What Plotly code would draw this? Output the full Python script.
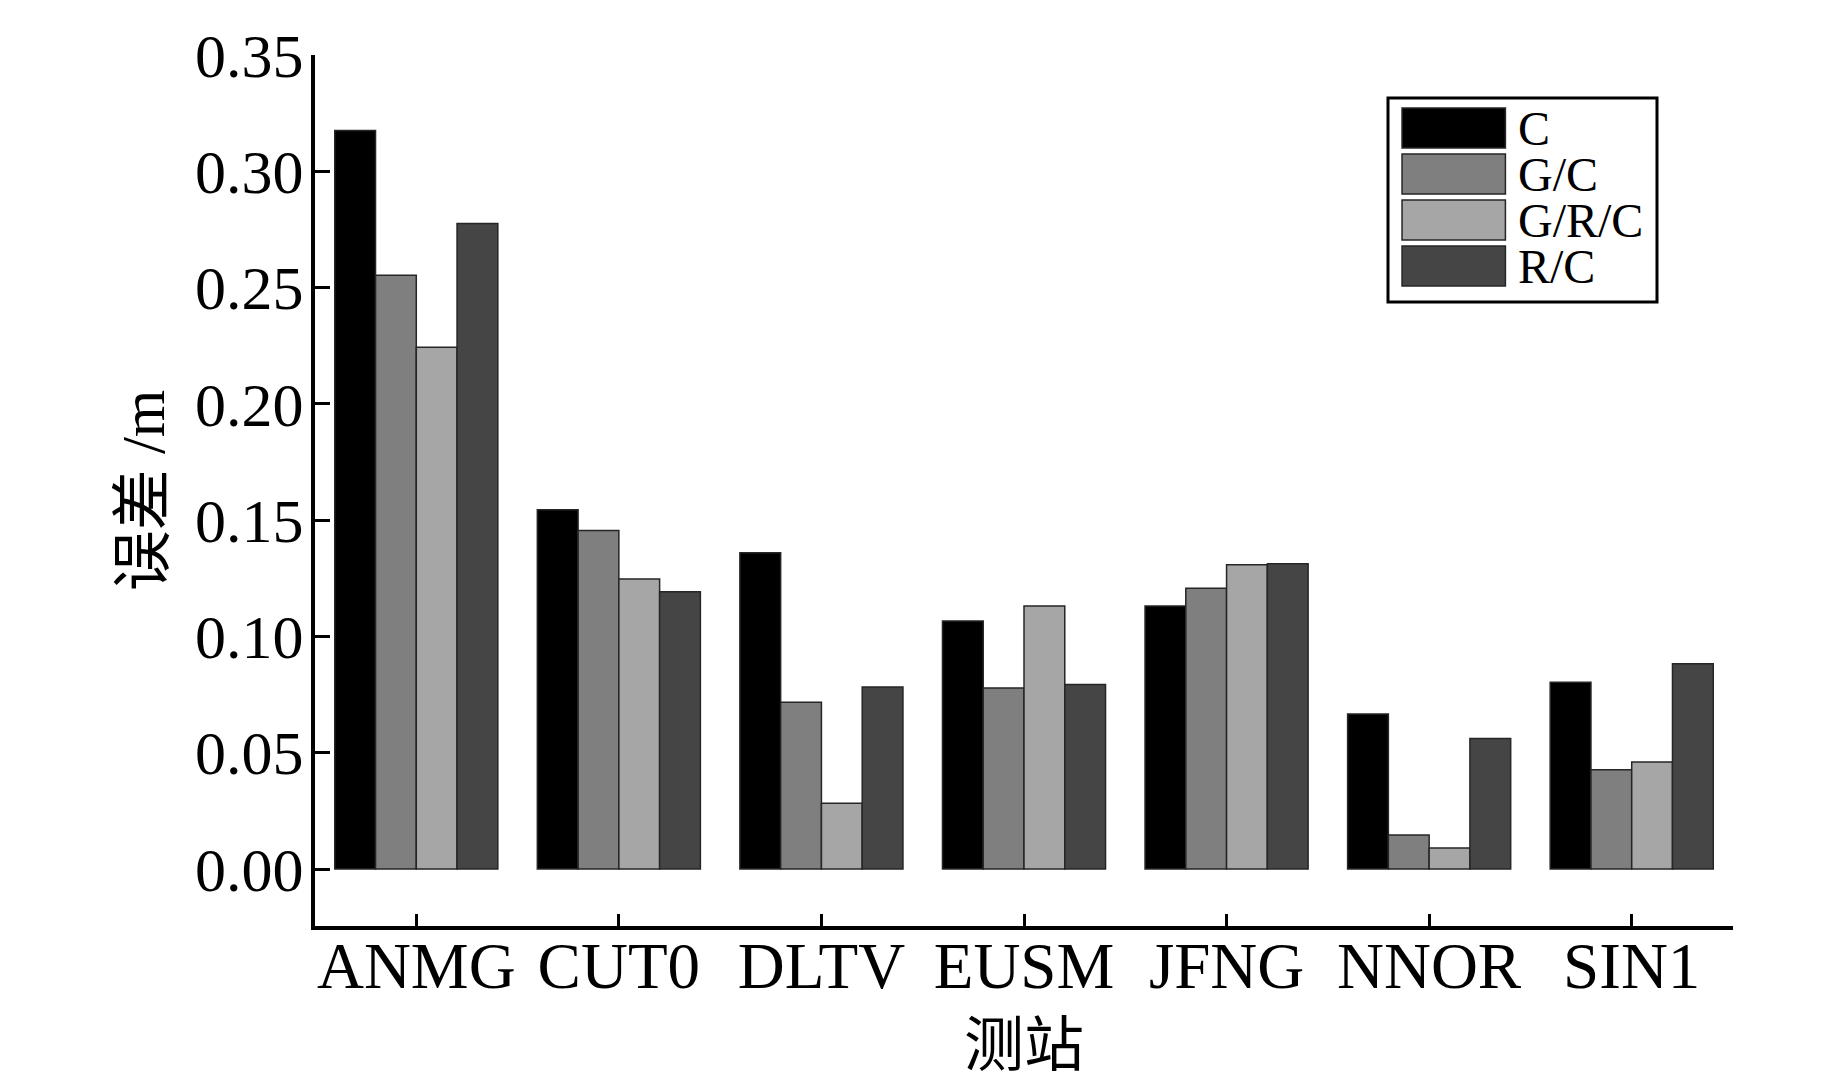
import plotly.graph_objects as go

# station names and error values (m) for each constellation combination
stations = ["ANMG", "CUT0", "DLTV", "EUSM", "JFNG", "NNOR", "SIN1"]
series_names = ["C", "G/C", "G/R/C", "R/C"]
err_c = [0.3175, 0.1545, 0.1360, 0.1066, 0.1131, 0.0666, 0.0803]
err_gc = [0.2553, 0.1455, 0.0717, 0.0778, 0.1207, 0.0146, 0.0427]
err_grc = [0.2243, 0.1247, 0.0283, 0.1131, 0.1308, 0.0090, 0.0460]
err_rc = [0.2775, 0.1192, 0.0783, 0.0793, 0.1313, 0.0561, 0.0883]
y_ticks = [0.00, 0.05, 0.10, 0.15, 0.20, 0.25, 0.30, 0.35]

series_values = [err_c, err_gc, err_grc, err_rc]
colors = ["#000000", "#7f7f7f", "#a6a6a6", "#454545"]

FONT = "Times New Roman, Liberation Serif, Noto Sans CJK SC, serif"

fig = go.Figure()
for name, vals, col in zip(series_names, series_values, colors):
    fig.add_trace(
        go.Bar(
            x=stations,
            y=vals,
            name=name,
            marker=dict(color=col, line=dict(color="#262626", width=1.5)),
            showlegend=False,
        )
    )

# hand-built legend box with large swatches like the original
box_x0, box_x1 = 0.7567, 0.9464
box_y0, box_y1 = 0.7164, 0.9506
fig.add_shape(
    type="rect", xref="paper", yref="paper",
    x0=box_x0, x1=box_x1, y0=box_y0, y1=box_y1,
    line=dict(color="black", width=3), fillcolor="white", layer="above",
)
row_h = 0.0528
first_center = 0.9162
for i, (name, col) in enumerate(zip(series_names, colors)):
    yc = first_center - i * row_h
    fig.add_shape(
        type="rect", xref="paper", yref="paper",
        x0=0.7666, x1=0.8395, y0=yc - 0.023, y1=yc + 0.023,
        line=dict(color="#262626", width=1.5), fillcolor=col, layer="above",
    )
    fig.add_annotation(
        xref="paper", yref="paper", x=0.8480, y=yc,
        xanchor="left", yanchor="middle", text=name, showarrow=False,
        height=42, borderpad=0,
        font=dict(family=FONT, size=48, color="black"),
    )

# page body adds an 8px offset, so the figure is shrunk by that amount
fig.update_layout(
    width=1835,
    height=1079,
    margin=dict(l=307, r=110, t=47, b=161),
    paper_bgcolor="white",
    plot_bgcolor="white",
    barmode="group",
    bargap=0.195,
    bargroupgap=0,
    font=dict(family=FONT, color="black"),
    xaxis=dict(
        title=dict(text="测站", font=dict(family=FONT, size=60), standoff=24),
        tickfont=dict(family=FONT, size=65),
        ticklabelstandoff=-20,
        showline=True, linecolor="black", linewidth=4,
        ticks="inside", ticklen=12, tickwidth=3, tickcolor="black",
        range=[-0.5, 6.5],
        showgrid=False, zeroline=False,
    ),
    yaxis=dict(
        title=dict(text="误差 /m", font=dict(family=FONT, size=61), standoff=12),
        tickfont=dict(family=FONT, size=62),
        ticklabelstandoff=-5,
        tickvals=y_ticks,
        tickformat=".2f",
        range=[-0.0245, 0.35],
        showline=True, linecolor="black", linewidth=4,
        ticks="inside", ticklen=15, tickwidth=3, tickcolor="black",
        showgrid=False, zeroline=False,
    ),
)

fig.write_html("out.html")
